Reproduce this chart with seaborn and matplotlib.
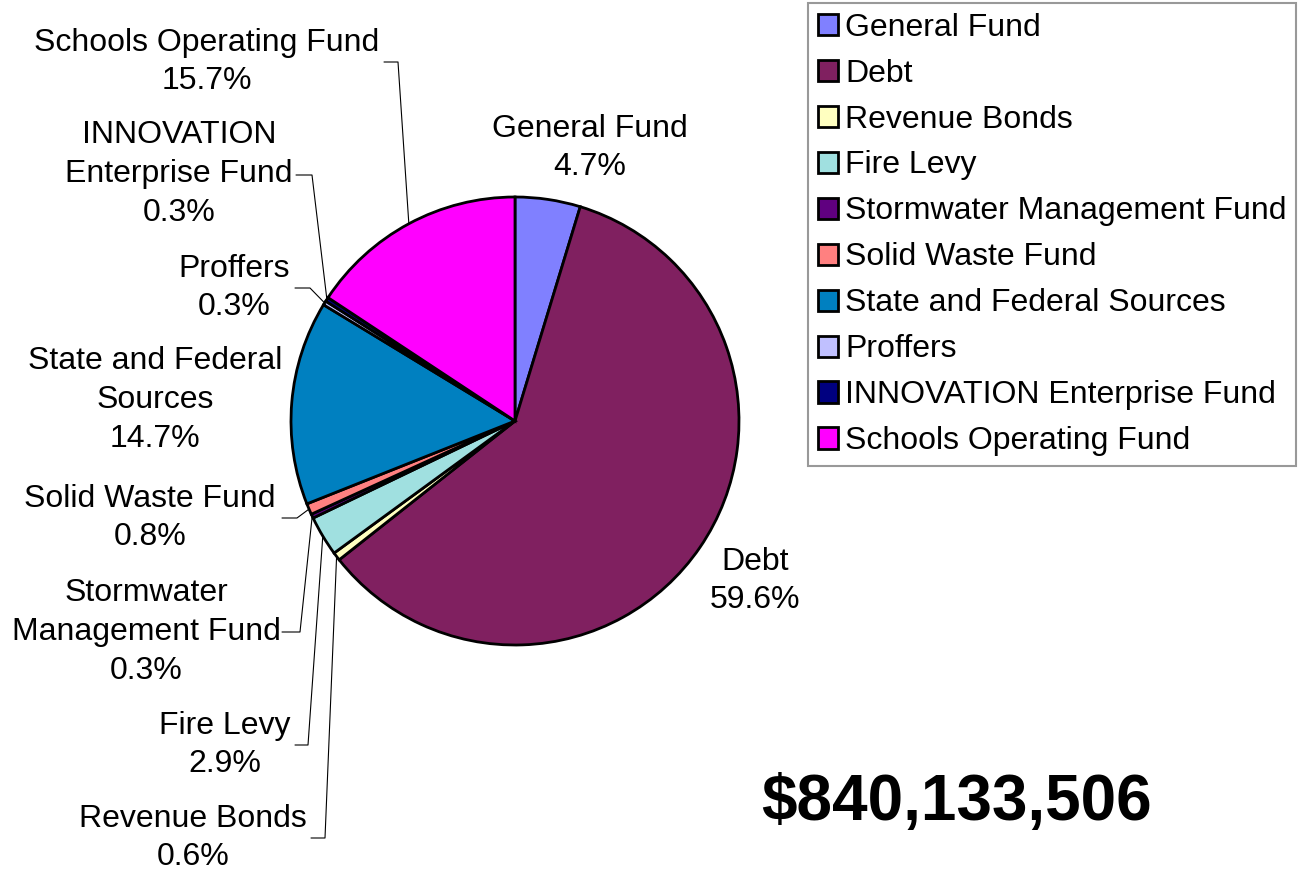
import numpy as np
import matplotlib
matplotlib.use("Agg")
import matplotlib.pyplot as plt
import seaborn as sns

# ---- data ----
categories = ["General Fund", "Debt", "Revenue Bonds", "Fire Levy",
              "Stormwater Management Fund", "Solid Waste Fund",
              "State and Federal Sources", "Proffers",
              "INNOVATION Enterprise Fund", "Schools Operating Fund"]
label_texts = ["General Fund", "Debt", "Revenue Bonds", "Fire Levy",
               "Stormwater\nManagement Fund", "Solid Waste Fund",
               "State and Federal\nSources", "Proffers",
               "INNOVATION\nEnterprise Fund", "Schools Operating Fund"]
shares = [4.7, 59.6, 0.6, 2.9, 0.3, 0.8, 14.7, 0.3, 0.3, 15.7]
colors_hex = ["#8080FF", "#802060", "#FFFFC0", "#A0E0E0", "#600080",
              "#FF8080", "#0080C0", "#C0C0FF", "#000080", "#FF00FF"]
total_text = "$840,133,506"

# ---- style ----
sns.set_theme(style="white")
plt.rcParams["font.family"] = ["Liberation Sans", "DejaVu Sans"]
plt.rcParams["text.color"] = "black"
palette = sns.color_palette(colors_hex)

W, H = 1303, 877
fig = plt.figure(figsize=(W / 100, H / 100), dpi=100)
ax = fig.add_axes([0, 0, 1, 1])
ax.set_xlim(0, W)
ax.set_ylim(0, H)
ax.set_aspect("equal")
ax.axis("off")

def py(y):
    return H - y

cx, cy, R = 515, py(421), 224
wedges, _ = ax.pie(shares, colors=palette, startangle=90, counterclock=False,
                   center=(cx, cy), radius=R,
                   wedgeprops=dict(edgecolor="black", linewidth=2.0))
ax.set_xlim(0, W)
ax.set_ylim(0, H)

FS = 23
# label layout: (center x, center y) in pixels, and leader (start x, elbow x, y) or None
layout = {
    "General Fund": ((590, 148), None),
    "Debt": ((755, 581), None),
    "Schools Operating Fund": ((207, 62), (384, 398, 62)),
    "INNOVATION Enterprise Fund": ((179, 174), (296, 312, 175)),
    "Proffers": ((234, 288), (295, 310, 288)),
    "State and Federal Sources": ((155, 400), None),
    "Solid Waste Fund": ((150, 518), (282, 297, 518)),
    "Stormwater Management Fund": ((146, 632), (282, 300, 632)),
    "Fire Levy": ((225, 745), (295, 308, 745)),
    "Revenue Bonds": ((193, 838), (311, 325, 838)),
}

for w, cat, txt, v in zip(wedges, categories, label_texts, shares):
    (lx, ly), leader = layout[cat]
    ax.text(lx, py(ly), f"{txt}\n{v:.1f}%", ha="center", va="center",
            fontsize=FS, linespacing=1.37, color="black")
    if leader is not None:
        sx, ex, ly2 = leader
        mid = np.deg2rad((w.theta1 + w.theta2) / 2)
        wx = w.center[0] + w.r * np.cos(mid)
        wy = w.center[1] + w.r * np.sin(mid)
        ax.plot([sx, ex, wx], [py(ly2), py(ly2), wy], color="black",
                linewidth=0.8, zorder=0.5)

leg = fig.legend(wedges, categories, loc="upper left",
                 bbox_to_anchor=(808 / W, 1 - 3 / H), fontsize=FS,
                 frameon=True, fancybox=False, borderpad=0.3,
                 labelspacing=0.5, handlelength=0.65, handleheight=0.65,
                 handletextpad=0.22, borderaxespad=0)
leg.get_frame().set_edgecolor("#808080")
leg.get_frame().set_linewidth(1.5)
for t in leg.get_texts():
    t.set_color("black")
for h in leg.legend_handles:
    h.set_linewidth(2.0)

ax.text(956, py(803), total_text, ha="center", va="center",
        fontsize=46, fontweight="bold", color="black")

fig.savefig("out.png", dpi=100)
